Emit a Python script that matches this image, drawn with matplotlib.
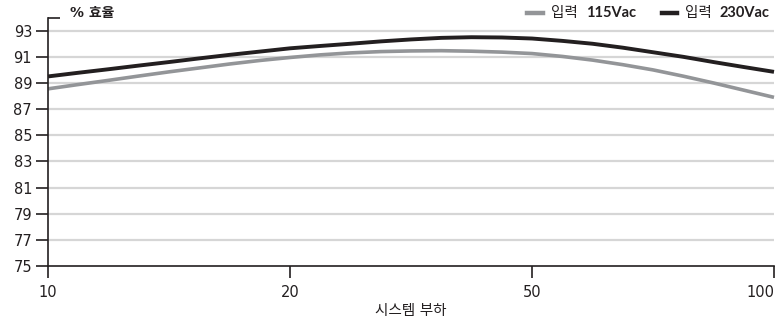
import numpy as np
import matplotlib
matplotlib.use("Agg")
import matplotlib.pyplot as plt
from matplotlib.lines import Line2D

plt.rcParams['font.family'] = ['DejaVu Sans', 'Noto Sans CJK KR']

# load categories (evenly spaced on the x axis)
loads = ["10", "20", "50", "100"]
# readings taken every eighth step between categories
pos = [i / 8 for i in range(25)]
eff_115 = [88.55, 88.88, 89.2, 89.53, 89.85, 90.15, 90.45, 90.72, 90.95,
           91.15, 91.3, 91.4, 91.45, 91.47, 91.43, 91.36, 91.25,
           91.03, 90.75, 90.4, 90.0, 89.52, 89.0, 88.45, 87.9]
eff_230 = [89.5, 89.78, 90.05, 90.33, 90.6, 90.88, 91.15, 91.4, 91.65,
           91.83, 92.0, 92.18, 92.33, 92.45, 92.5, 92.48, 92.4,
           92.22, 92.0, 91.7, 91.35, 91.0, 90.6, 90.22, 89.85]
yticks = [75, 77, 79, 81, 83, 85, 87, 89, 91, 93]

dark = "#231f20"
gray = "#939598"

fig = plt.figure(figsize=(7.77, 3.24), dpi=100)
ax = fig.add_axes([48 / 777, 58 / 324, 726 / 777, 248.4 / 324])

for t in yticks[1:]:
    ax.axhline(t, color="#d6d6d6", lw=1.6, zorder=1)

ax.plot(pos, eff_115, color=gray, lw=2.6, solid_capstyle="butt", clip_on=False, zorder=3)
ax.plot(pos, eff_230, color=dark, lw=2.8, solid_capstyle="butt", clip_on=False, zorder=4)

ax.set_xlim(0, 3)
ax.set_ylim(75, 94)
ax.set_xticks(range(len(loads)))
ax.set_xticklabels(loads)
ax.set_yticks(yticks)

for s in ["top", "right"]:
    ax.spines[s].set_visible(False)
for s in ["left", "bottom"]:
    ax.spines[s].set_color(dark)
    ax.spines[s].set_linewidth(1.2)
    ax.spines[s].set_zorder(5)

ax.tick_params(axis="both", length=8.5, width=1.2, color=dark, labelsize=10.5,
               labelcolor=dark)
ax.tick_params(axis="y", pad=3)
ax.tick_params(axis="x", pad=5)
ax.get_xticklabels()[-1].set_horizontalalignment("right")
ax.get_xticklabels()[-1].set_x(3.004)

# small tick at the top of the y spine
ax.hlines(94, 0, 12 / 726, transform=ax.get_yaxis_transform(), color=dark,
          lw=1.2, clip_on=False)

ax.set_xlabel("시스템 부하", fontsize=10.5, color=dark, labelpad=2)
fig.text(70 / 777, 1 - 13 / 324, "% 효율", fontsize=10, color=dark,
         va="center", ha="left", fontweight="bold")

# legend drawn by hand: "입력" regular, voltage bold
yl = 1 - 13 / 324
entries = [(gray, 527, 543, 551, 586, "115Vac"), (dark, 662, 677, 685, 720, "230Vac")]
for col, x0, x1, xk, xv, lab in entries:
    fig.add_artist(Line2D([x0 / 777, x1 / 777], [yl, yl], color=col, lw=3.2,
                          transform=fig.transFigure))
    fig.text(xk / 777, yl, "입력", fontsize=10.5, color=dark, ha="left", va="center",
             family="Noto Sans CJK KR")
    fig.text(xv / 777, yl, lab, fontsize=10.5, color=dark, ha="left", va="center",
             fontweight="bold", family="Lato")

fig.savefig("out.png", dpi=100)
